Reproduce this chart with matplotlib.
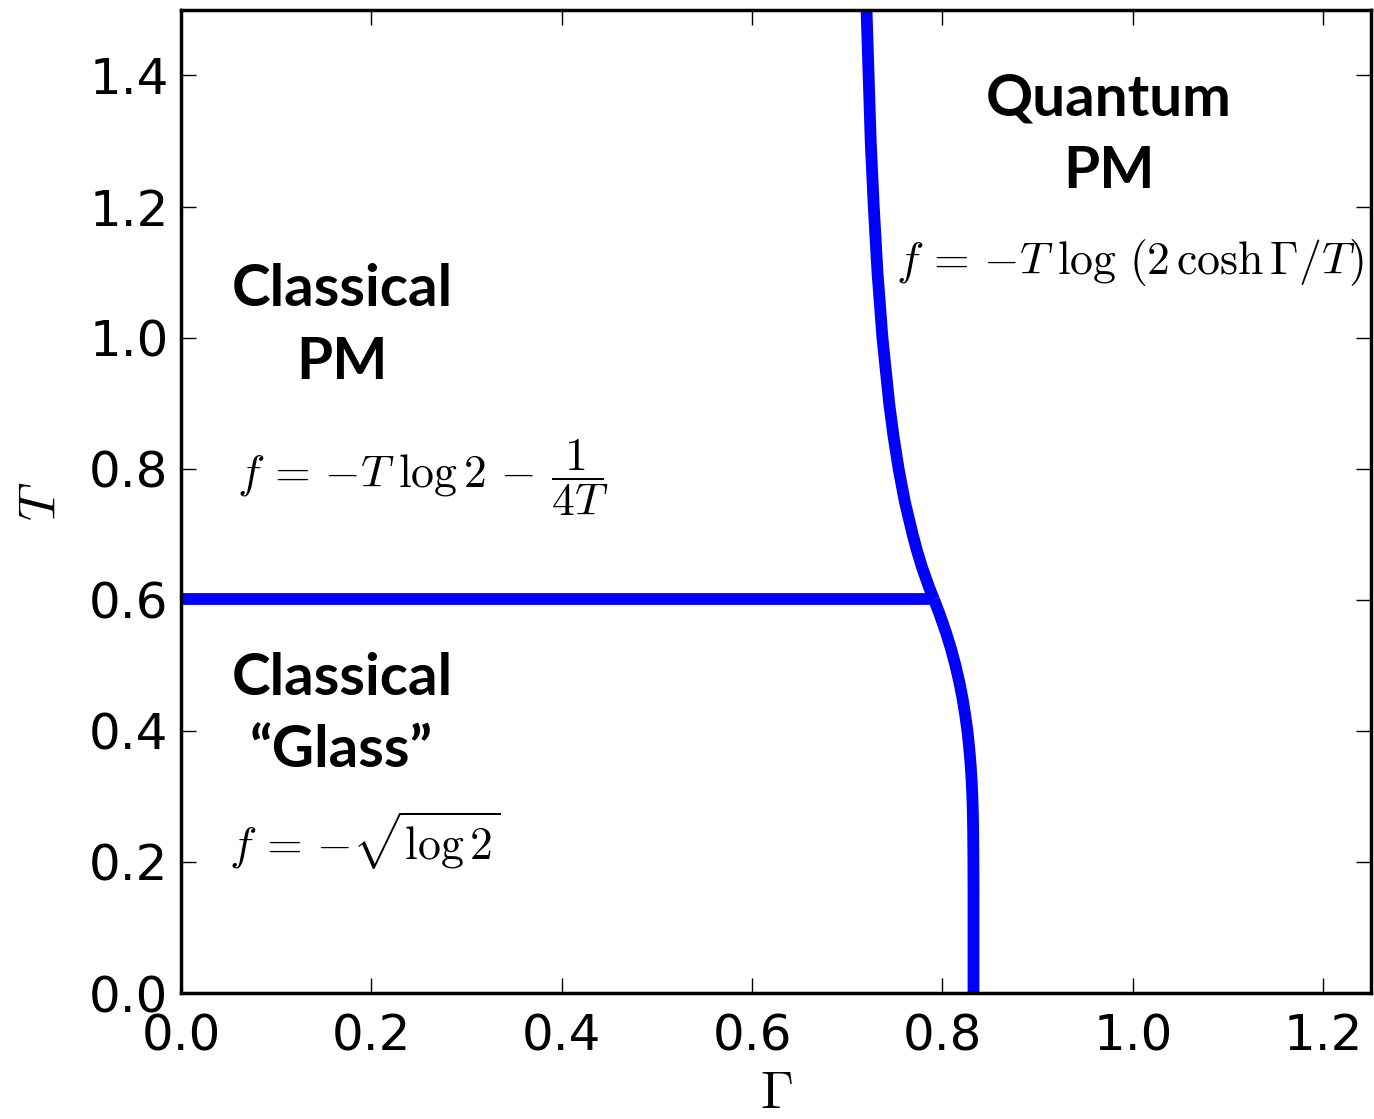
import matplotlib
matplotlib.use("Agg")
import matplotlib.pyplot as plt

plt.rcParams["mathtext.fontset"] = "cm"

# boundary between classical PM and quantum PM (T >= Tc)
cpm_gamma = [0.7910, 0.7857, 0.7784, 0.7732, 0.7686, 0.7604, 0.7539, 0.7485,
             0.7440, 0.7369, 0.7317, 0.7278, 0.7246, 0.7224, 0.7202]
cpm_T = [0.6006, 0.62, 0.65, 0.675, 0.70, 0.75, 0.80, 0.85,
         0.90, 1.00, 1.10, 1.20, 1.30, 1.40, 1.50]

# boundary between classical glass and quantum PM (T <= Tc)
glass_gamma = [0.7910, 0.7965, 0.8037, 0.8090, 0.8136, 0.8176, 0.8210, 0.8238,
               0.8262, 0.8280, 0.8295, 0.8306, 0.8314, 0.8319, 0.8322, 0.8325,
               0.8326, 0.8326, 0.8326]
glass_T = [0.6006, 0.58, 0.55, 0.525, 0.50, 0.475, 0.45, 0.425,
           0.40, 0.375, 0.35, 0.325, 0.30, 0.275, 0.25, 0.20,
           0.15, 0.10, 0.0]

# freezing line
tc_gamma = [0.0, 0.791]
tc_T = [0.6006, 0.6006]

xticks = [0.0, 0.2, 0.4, 0.6, 0.8, 1.0, 1.2]
yticks = [0.0, 0.2, 0.4, 0.6, 0.8, 1.0, 1.2, 1.4]

fig = plt.figure(figsize=(13.74, 11.19), dpi=100)
ax = fig.add_axes([0.1317, 0.1126, 0.866, 0.8785])

ax.plot(cpm_gamma, cpm_T, color="blue", lw=8.5, solid_capstyle="butt")
ax.plot(glass_gamma, glass_T, color="blue", lw=8.5, solid_capstyle="butt")
ax.plot(tc_gamma, tc_T, color="blue", lw=8.5, solid_capstyle="butt")

ax.set_xlim(0, 1.25)
ax.set_ylim(0, 1.5)
ax.set_xticks(xticks)
ax.set_yticks(yticks)
ax.set_xticklabels([f"{v:.1f}" for v in xticks])
ax.set_yticklabels([f"{v:.1f}" for v in yticks])
ax.tick_params(direction="in", length=11, width=1, labelsize=36,
               top=True, right=True)
ax.tick_params(axis="x", pad=14)
ax.tick_params(axis="y", pad=9)
for s in ax.spines.values():
    s.set_linewidth(2.5)

ax.set_xlabel(r"$\Gamma$", fontsize=38, labelpad=5)
ax.set_ylabel(r"$T$", fontsize=38, labelpad=16)

bold = dict(family="Lato", fontweight="bold", fontsize=42, ha="center",
            va="center", linespacing=1.45)
ax.text(0.169, 1.018, "Classical\nPM", **bold)
ax.text(0.169, 0.425, "Classical\n\u201cGlass\u201d", **bold)
ax.text(0.975, 1.309, "Quantum\nPM", **bold)

ax.text(0.254, 0.786, r"$f\,=\,{-T}\;\log 2\,-\,\dfrac{1}{4T}$", fontsize=33,
        ha="center", va="center")
ax.text(0.193, 0.233, r"$f\,=\,{-\sqrt{\log 2}}$", fontsize=33,
        ha="center", va="center")
ax.text(0.997, 1.115, r"$f\,=\,{-T}\;\log\,(2\,\cosh\Gamma/T)$", fontsize=33,
        ha="center", va="center")

fig.savefig("out.png")
